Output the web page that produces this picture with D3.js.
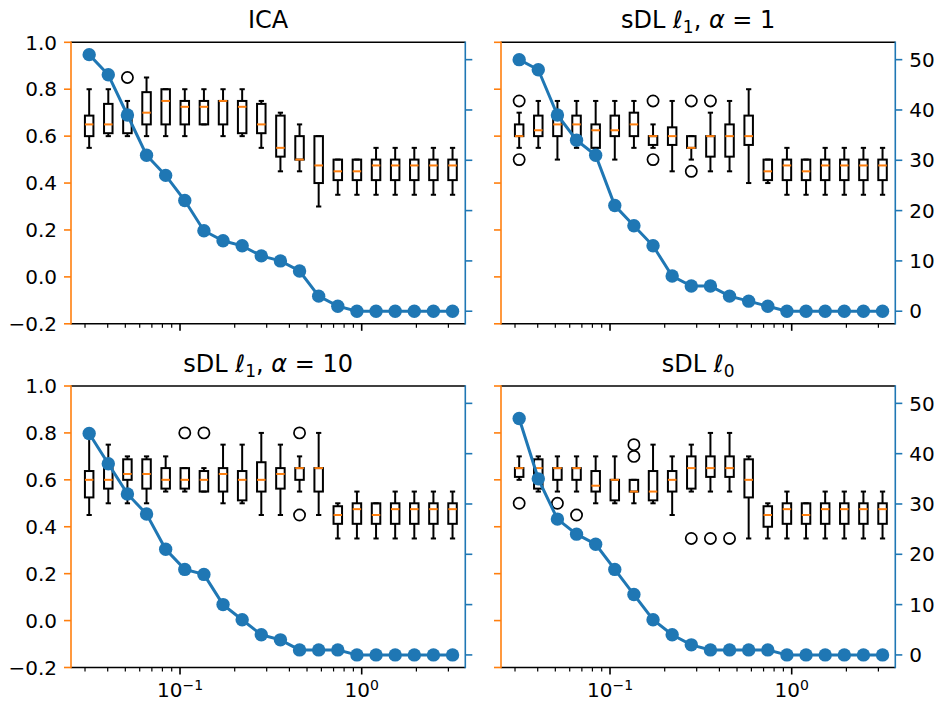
<!DOCTYPE html>
<html>
<head>
<meta charset="utf-8">
<script src="https://cdn.jsdelivr.net/npm/d3@7"></script>
<style>
  body { margin: 0; background: #fff; }
  text { font-family: "DejaVu Sans", sans-serif; fill: #000; }
</style>
</head>
<body>
<div id="chart"></div>
<script>
// sparsity levels (x positions of the boxes and dots)
var xPos = [0.031623, 0.040296, 0.051348, 0.065432, 0.083378, 0.10624, 0.13538, 0.17252, 0.21983, 0.28013,
            0.35697, 0.45487, 0.57964, 0.73861, 0.94122, 1.19935, 1.52831, 1.94748, 2.48163, 3.16228];

// boxes: [whisker low, q1, median, q3, whisker high]
var icaBoxes = [
  [0.55, 0.60, 0.65, 0.6875, 0.80], [0.60, 0.6125, 0.65, 0.7375, 0.80], [0.60, 0.6125, 0.675, 0.70, 0.75],
  [0.60, 0.65, 0.70, 0.7875, 0.85], [0.60, 0.65, 0.75, 0.80, 0.80], [0.60, 0.65, 0.725, 0.75, 0.80],
  [0.65, 0.65, 0.725, 0.75, 0.80], [0.60, 0.65, 0.75, 0.75, 0.80], [0.60, 0.6125, 0.725, 0.75, 0.80],
  [0.55, 0.6125, 0.65, 0.7375, 0.75], [0.45, 0.5125, 0.55, 0.6875, 0.70], [0.45, 0.50, 0.50, 0.60, 0.65],
  [0.30, 0.40, 0.475, 0.60, 0.60], [0.35, 0.4125, 0.45, 0.50, 0.50], [0.35, 0.4125, 0.45, 0.50, 0.50],
  [0.35, 0.4125, 0.475, 0.50, 0.55], [0.35, 0.4125, 0.475, 0.50, 0.55], [0.35, 0.4125, 0.475, 0.50, 0.55],
  [0.35, 0.4125, 0.475, 0.50, 0.55], [0.35, 0.4125, 0.475, 0.50, 0.55]
];
var icaFliers = [[2, 0.85]];
var icaCount = [51, 47, 39, 31, 27, 22, 16, 14, 13, 11, 10, 8, 3, 1, 0, 0, 0, 0, 0, 0];

var l1a1Boxes = [
  [0.55, 0.60, 0.60, 0.65, 0.70], [0.55, 0.60, 0.625, 0.6875, 0.75], [0.50, 0.60, 0.65, 0.6875, 0.75],
  [0.55, 0.60, 0.65, 0.6875, 0.75], [0.55, 0.55, 0.625, 0.65, 0.75], [0.50, 0.60, 0.625, 0.6875, 0.75],
  [0.55, 0.60, 0.65, 0.70, 0.75], [0.55, 0.5625, 0.60, 0.60, 0.65], [0.45, 0.5625, 0.60, 0.6375, 0.75],
  [0.50, 0.55, 0.55, 0.60, 0.60], [0.45, 0.5125, 0.60, 0.60, 0.70], [0.45, 0.5125, 0.60, 0.65, 0.75],
  [0.40, 0.5625, 0.60, 0.6875, 0.80], [0.40, 0.4125, 0.45, 0.50, 0.50], [0.35, 0.4125, 0.475, 0.50, 0.55],
  [0.35, 0.4125, 0.45, 0.50, 0.50], [0.35, 0.4125, 0.475, 0.50, 0.55], [0.35, 0.4125, 0.475, 0.50, 0.55],
  [0.35, 0.4125, 0.475, 0.50, 0.55], [0.35, 0.4125, 0.475, 0.50, 0.55]
];
var l1a1Fliers = [[0, 0.75], [0, 0.50], [7, 0.75], [7, 0.50], [9, 0.75], [9, 0.45], [10, 0.75]];
var l1a1Count = [50, 48, 39, 34, 31, 21, 17, 13, 7, 5, 5, 3, 2, 1, 0, 0, 0, 0, 0, 0];

var l1a10Boxes = [
  [0.45, 0.525, 0.60, 0.6375, 0.80], [0.50, 0.5625, 0.60, 0.65, 0.75], [0.50, 0.60, 0.625, 0.6875, 0.70],
  [0.50, 0.5625, 0.625, 0.6875, 0.70], [0.55, 0.5625, 0.60, 0.65, 0.70], [0.55, 0.5625, 0.60, 0.65, 0.65],
  [0.55, 0.55, 0.60, 0.6375, 0.65], [0.50, 0.55, 0.625, 0.65, 0.75], [0.50, 0.5125, 0.60, 0.6375, 0.75],
  [0.45, 0.55, 0.60, 0.675, 0.80], [0.45, 0.5625, 0.625, 0.65, 0.75], [0.55, 0.60, 0.65, 0.65, 0.70],
  [0.45, 0.55, 0.65, 0.65, 0.80], [0.35, 0.4125, 0.45, 0.4875, 0.50], [0.35, 0.4125, 0.475, 0.50, 0.55],
  [0.35, 0.4125, 0.45, 0.50, 0.50], [0.35, 0.4125, 0.475, 0.50, 0.55], [0.35, 0.4125, 0.475, 0.50, 0.55],
  [0.35, 0.4125, 0.475, 0.50, 0.55], [0.35, 0.4125, 0.475, 0.50, 0.55]
];
var l1a10Fliers = [[5, 0.80], [6, 0.80], [11, 0.80], [11, 0.45]];
var l1a10Count = [44, 38, 32, 28, 21, 17, 16, 10, 7, 4, 3, 1, 1, 1, 0, 0, 0, 0, 0, 0];

var l0Boxes = [
  [0.60, 0.6125, 0.65, 0.65, 0.70], [0.55, 0.5625, 0.65, 0.6875, 0.70], [0.55, 0.60, 0.65, 0.65, 0.70],
  [0.55, 0.60, 0.65, 0.65, 0.70], [0.50, 0.55, 0.575, 0.6375, 0.70], [0.50, 0.5125, 0.60, 0.60, 0.70],
  [0.50, 0.55, 0.55, 0.60, 0.60], [0.50, 0.5125, 0.55, 0.6375, 0.75], [0.45, 0.55, 0.60, 0.6375, 0.70],
  [0.55, 0.5625, 0.65, 0.70, 0.75], [0.55, 0.6125, 0.65, 0.70, 0.80], [0.55, 0.6125, 0.65, 0.70, 0.80],
  [0.35, 0.525, 0.60, 0.6875, 0.70], [0.35, 0.40, 0.45, 0.4875, 0.50], [0.35, 0.4125, 0.475, 0.50, 0.55],
  [0.35, 0.4125, 0.45, 0.50, 0.50], [0.35, 0.4125, 0.475, 0.50, 0.55], [0.35, 0.4125, 0.475, 0.50, 0.55],
  [0.35, 0.4125, 0.475, 0.50, 0.55], [0.35, 0.4125, 0.475, 0.50, 0.55]
];
var l0Fliers = [[0, 0.50], [2, 0.50], [3, 0.45], [6, 0.75], [6, 0.70], [9, 0.35], [10, 0.35], [11, 0.35]];
var l0Count = [47, 35, 27, 24, 22, 17, 12, 7, 4, 2, 1, 1, 1, 1, 0, 0, 0, 0, 0, 0];

var leftTicks = [-0.2, 0.0, 0.2, 0.4, 0.6, 0.8, 1.0];
var rightTicks = [0, 10, 20, 30, 40, 50];
var majorX = [0.1, 1];

// titles as mathtext-like pieces
var titles = [
  [{t: "ICA"}],
  [{t: "sDL "}, {t: "\u2113", it: true}, {t: "1", sub: true}, {t: ", "}, {t: "\u03b1", it: true}, {t: " = 1"}],
  [{t: "sDL "}, {t: "\u2113", it: true}, {t: "1", sub: true}, {t: ", "}, {t: "\u03b1", it: true}, {t: " = 10"}],
  [{t: "sDL "}, {t: "\u2113", it: true}, {t: "0", sub: true}]
];

var panels = [
  {left: 71, top: 42.3, boxes: icaBoxes, fliers: icaFliers, count: icaCount, lab: true, rlab: false, xlab: false},
  {left: 501, top: 42.3, boxes: l1a1Boxes, fliers: l1a1Fliers, count: l1a1Count, lab: false, rlab: true, xlab: false},
  {left: 71, top: 386, boxes: l1a10Boxes, fliers: l1a10Fliers, count: l1a10Count, lab: true, rlab: false, xlab: true},
  {left: 501, top: 386, boxes: l0Boxes, fliers: l0Fliers, count: l0Count, lab: false, rlab: true, xlab: true}
];

var W = 394.3, H = 281.5;
var orange = "#ff7f0e", blue = "#1f77b4";

var xScale = d3.scaleLog()
  .domain([Math.pow(10, -1.6), Math.pow(10, 0.5702)])
  .range([0, W]);

var yLeft = d3.scaleLinear()
  .domain([-0.2, 1.0])
  .range([H, 0]);

var yRight = d3.scaleLinear()
  .domain([-2.5, 53.45])
  .range([H, 0]);

var fmt = d3.format(".1f");

var svg = d3.select("#chart").append("svg")
  .attr("width", 939)
  .attr("height", 702)
  .style("background", "#fff");

panels.forEach(function(p, k) {
  var g = svg.append("g").attr("transform", "translate(" + p.left + "," + p.top + ")");

  // title
  var title = g.append("text")
    .attr("x", W / 2)
    .attr("y", -14)
    .attr("text-anchor", "middle")
    .style("font-size", "24px");
  titles[k].forEach(function(s) {
    var ts = title.append("tspan").text(s.t);
    if (s.it) ts.style("font-style", "italic");
    if (s.sub) ts.style("font-size", "17px").attr("dy", 5);
    else if (title.selectAll("tspan").size() > 1 && titles[k][title.selectAll("tspan").size() - 2].sub) ts.attr("dy", -5);
  });

  // boxplots
  var bw = 8.5;
  var box = g.selectAll("g.box")
    .data(p.boxes)
    .enter().append("g")
      .attr("class", "box")
      .attr("transform", function(d, i) { return "translate(" + xScale(xPos[i]) + ",0)"; });

  box.append("line")
    .attr("x1", 0).attr("x2", 0)
    .attr("y1", function(d) { return yLeft(d[0]); })
    .attr("y2", function(d) { return yLeft(d[1]); })
    .style("stroke", "#000").style("stroke-width", 2);
  box.append("line")
    .attr("x1", 0).attr("x2", 0)
    .attr("y1", function(d) { return yLeft(d[3]); })
    .attr("y2", function(d) { return yLeft(d[4]); })
    .style("stroke", "#000").style("stroke-width", 2);
  box.append("line")
    .attr("x1", -bw / 4 - 0.5).attr("x2", bw / 4 + 0.5)
    .attr("y1", function(d) { return yLeft(d[0]); })
    .attr("y2", function(d) { return yLeft(d[0]); })
    .style("stroke", "#000").style("stroke-width", 2);
  box.append("line")
    .attr("x1", -bw / 4 - 0.5).attr("x2", bw / 4 + 0.5)
    .attr("y1", function(d) { return yLeft(d[4]); })
    .attr("y2", function(d) { return yLeft(d[4]); })
    .style("stroke", "#000").style("stroke-width", 2);
  box.append("rect")
    .attr("x", -bw / 2)
    .attr("width", bw)
    .attr("y", function(d) { return yLeft(d[3]); })
    .attr("height", function(d) { return Math.max(0, yLeft(d[1]) - yLeft(d[3])); })
    .style("fill", "none").style("stroke", "#000").style("stroke-width", 2);
  box.append("line")
    .attr("x1", -bw / 2).attr("x2", bw / 2)
    .attr("y1", function(d) { return yLeft(d[2]); })
    .attr("y2", function(d) { return yLeft(d[2]); })
    .style("stroke", orange).style("stroke-width", 2);

  g.selectAll("circle.flier")
    .data(p.fliers)
    .enter().append("circle")
      .attr("class", "flier")
      .attr("cx", function(d) { return xScale(xPos[d[0]]); })
      .attr("cy", function(d) { return yLeft(d[1]); })
      .attr("r", 5.6)
      .style("fill", "none").style("stroke", "#000").style("stroke-width", 1.7);

  // count line on twin axis
  var line = d3.line()
    .x(function(d, i) { return xScale(xPos[i]); })
    .y(function(d) { return yRight(d); });

  g.append("path")
    .datum(p.count)
    .attr("d", line)
    .style("fill", "none").style("stroke", blue).style("stroke-width", 3);

  g.selectAll("circle.dot")
    .data(p.count)
    .enter().append("circle")
      .attr("class", "dot")
      .attr("cx", function(d, i) { return xScale(xPos[i]); })
      .attr("cy", function(d) { return yRight(d); })
      .attr("r", 6.7)
      .style("fill", blue);

  // spines
  g.append("line").attr("x1", 0).attr("x2", W).attr("y1", 0).attr("y2", 0)
    .style("stroke", "#000").style("stroke-width", 1.6);
  g.append("line").attr("x1", 0).attr("x2", W).attr("y1", H).attr("y2", H)
    .style("stroke", "#000").style("stroke-width", 1.6);
  g.append("line").attr("x1", 0).attr("x2", 0).attr("y1", -0.8).attr("y2", H + 0.8)
    .style("stroke", orange).style("stroke-width", 1.6);
  g.append("line").attr("x1", W).attr("x2", W).attr("y1", -0.8).attr("y2", H + 0.8)
    .style("stroke", blue).style("stroke-width", 1.6);

  // left axis (orange ticks)
  g.selectAll("line.lt")
    .data(leftTicks)
    .enter().append("line")
      .attr("class", "lt")
      .attr("x1", -7).attr("x2", 0)
      .attr("y1", function(d) { return yLeft(d); })
      .attr("y2", function(d) { return yLeft(d); })
      .style("stroke", orange).style("stroke-width", 1.6);
  if (p.lab) {
    g.selectAll("text.ll")
      .data(leftTicks)
      .enter().append("text")
        .attr("class", "ll")
        .attr("x", -14)
        .attr("y", function(d) { return yLeft(d); })
        .attr("dy", "0.36em")
        .attr("text-anchor", "end")
        .style("font-size", "20px")
        .text(function(d) { return fmt(d); });
  }

  // right axis (blue ticks)
  g.selectAll("line.rt")
    .data(rightTicks)
    .enter().append("line")
      .attr("class", "rt")
      .attr("x1", W).attr("x2", W + 7)
      .attr("y1", function(d) { return yRight(d); })
      .attr("y2", function(d) { return yRight(d); })
      .style("stroke", blue).style("stroke-width", 1.6);
  if (p.rlab) {
    g.selectAll("text.rl")
      .data(rightTicks)
      .enter().append("text")
        .attr("class", "rl")
        .attr("x", W + 14)
        .attr("y", function(d) { return yRight(d); })
        .attr("dy", "0.36em")
        .style("font-size", "20px")
        .text(function(d) { return d; });
  }

  // log x axis: majors and minors
  var allX = xScale.ticks();
  g.selectAll("line.xt")
    .data(allX)
    .enter().append("line")
      .attr("class", "xt")
      .attr("x1", function(d) { return xScale(d); })
      .attr("x2", function(d) { return xScale(d); })
      .attr("y1", H)
      .attr("y2", function(d) { return majorX.indexOf(d) >= 0 ? H + 7 : H + 4; })
      .style("stroke", "#000")
      .style("stroke-width", function(d) { return majorX.indexOf(d) >= 0 ? 1.6 : 1.2; });
  if (p.xlab) {
    majorX.forEach(function(d) {
      var t = g.append("text")
        .attr("x", xScale(d))
        .attr("y", H + 29.6)
        .attr("text-anchor", "middle")
        .style("font-size", "20px");
      t.append("tspan").text("10");
      t.append("tspan")
        .attr("dy", -7.5)
        .style("font-size", "14px")
        .text(Math.round(Math.log10(d)) < 0 ? "\u2212" + Math.abs(Math.round(Math.log10(d))) : String(Math.round(Math.log10(d))));
    });
  }
});
</script>
</body>
</html>
